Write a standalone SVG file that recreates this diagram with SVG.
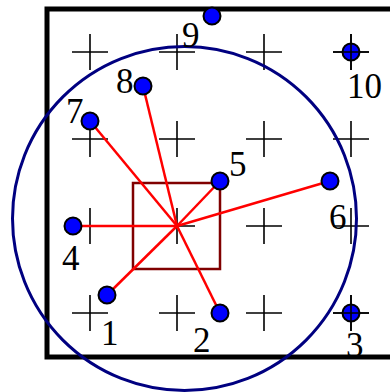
<svg xmlns="http://www.w3.org/2000/svg" width="390" height="392" viewBox="0 0 390 392">
<style>
.frame{fill:none;stroke:#000;stroke-width:5}
.cross{stroke:#000;stroke-width:1.6}
.ring{fill:none;stroke:#000080;stroke-width:3}
.box{fill:none;stroke:#800000;stroke-width:2.5}
.link{stroke:#ff0000;stroke-width:2.5}
.pt{fill:#0000ff;stroke:#000;stroke-width:2}
.lbl{font-family:"Liberation Serif","Times New Roman",serif;font-size:35px;fill:#000}
</style>
<defs>
<path id="cr" class="cross" d="M-18 0H18M0 -18V18"/>
</defs>
<rect class="frame" x="47" y="9" width="360" height="348"/>
<g id="grid">
<use href="#cr" x="90" y="52"/><use href="#cr" x="177" y="52"/><use href="#cr" x="264" y="52"/><use href="#cr" x="351" y="52"/>
<use href="#cr" x="90" y="139"/><use href="#cr" x="177" y="139"/><use href="#cr" x="264" y="139"/><use href="#cr" x="351" y="139"/>
<use href="#cr" x="90" y="226"/><use href="#cr" x="177" y="226"/><use href="#cr" x="264" y="226"/><use href="#cr" x="351" y="226"/>
<use href="#cr" x="90" y="313"/><use href="#cr" x="177" y="313"/><use href="#cr" x="264" y="313"/><use href="#cr" x="351" y="313"/>
</g>
<circle id="range" class="ring" cx="184.5" cy="218.5" r="172"/>
<rect id="cell" class="box" x="133" y="183" width="87" height="86"/>
<g id="connectors">
<line class="link" x1="177" y1="226" x2="107" y2="295"/>
<line class="link" x1="177" y1="226" x2="220" y2="313"/>
<line class="link" x1="177" y1="226" x2="73" y2="226"/>
<line class="link" x1="177" y1="226" x2="220" y2="181"/>
<line class="link" x1="177" y1="226" x2="330" y2="181"/>
<line class="link" x1="177" y1="226" x2="90" y2="121"/>
<line class="link" x1="177" y1="226" x2="143" y2="86"/>
</g>
<g id="n1"><circle class="pt" cx="107" cy="295" r="8.5"/><text class="lbl" x="101" y="345">1</text></g>
<g id="n2"><circle class="pt" cx="220" cy="313" r="8.5"/><text class="lbl" x="193" y="352">2</text></g>
<g id="n3"><circle class="pt" cx="351" cy="313" r="8.5"/><use href="#cr" x="351" y="313"/><text class="lbl" x="346" y="357">3</text></g>
<g id="n4"><circle class="pt" cx="73" cy="226" r="8.5"/><text class="lbl" x="62" y="270">4</text></g>
<g id="n5"><circle class="pt" cx="220" cy="181" r="8.5"/><text class="lbl" x="229" y="176">5</text></g>
<g id="n6"><circle class="pt" cx="330" cy="181" r="8.5"/><text class="lbl" x="329" y="229">6</text></g>
<g id="n7"><circle class="pt" cx="90" cy="121" r="8.5"/><text class="lbl" x="66" y="123">7</text></g>
<g id="n8"><circle class="pt" cx="143" cy="86" r="8.5"/><text class="lbl" x="116" y="93">8</text></g>
<g id="n9"><circle class="pt" cx="212" cy="16" r="8.5"/><text class="lbl" x="182" y="47">9</text></g>
<g id="n10"><circle class="pt" cx="351" cy="52" r="8.5"/><use href="#cr" x="351" y="52"/><text class="lbl" x="347" y="98">10</text></g>
</svg>
